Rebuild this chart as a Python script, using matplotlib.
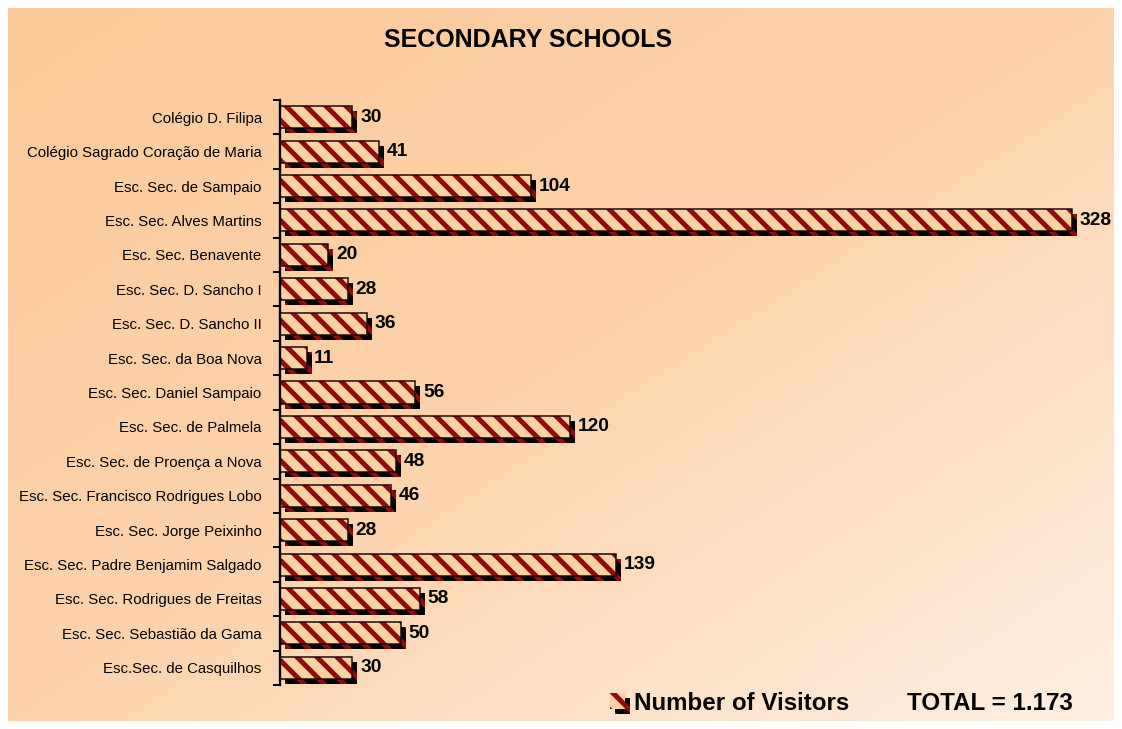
import numpy as np
import matplotlib.pyplot as plt
import matplotlib.patheffects as pe
from matplotlib.colors import LinearSegmentedColormap

plt.rcParams['font.family'] = ['Liberation Sans', 'DejaVu Sans']
plt.rcParams['hatch.linewidth'] = 3.0

schools = ["Colégio D. Filipa", "Colégio Sagrado Coração de Maria",
           "Esc. Sec. de Sampaio", "Esc. Sec. Alves Martins",
           "Esc. Sec. Benavente", "Esc. Sec. D. Sancho I",
           "Esc. Sec. D. Sancho II", "Esc. Sec. da Boa Nova",
           "Esc. Sec. Daniel Sampaio", "Esc. Sec. de Palmela",
           "Esc. Sec. de Proença a Nova", "Esc. Sec. Francisco Rodrigues Lobo",
           "Esc. Sec. Jorge Peixinho", "Esc. Sec. Padre Benjamim Salgado",
           "Esc. Sec. Rodrigues de Freitas", "Esc. Sec. Sebastião da Gama",
           "Esc.Sec. de Casquilhos"]
visitors = [30, 41, 104, 328, 20, 28, 36, 11, 56, 120, 48, 46, 28, 139, 58, 50, 30]
total_label = "TOTAL = 1.173"

W, H, dpi = 1122, 729, 120
fig = plt.figure(figsize=(W / dpi, H / dpi), dpi=dpi)
fig.patch.set_facecolor('white')

# gradient background frame
bg = fig.add_axes([8 / W, 8 / H, 1 - 16 / W, 1 - 16 / H])
cmap = LinearSegmentedColormap.from_list('peach', ['#fdca9a', '#fdd3ac', '#ffefe2'])
xx, yy = np.meshgrid(np.linspace(0, 1, 200), np.linspace(0, 1, 200))
bg.imshow((xx + yy) / 2, cmap=cmap, aspect='auto', extent=(0, 1, 0, 1), origin='upper')
bg.axis('off')

ax = fig.add_axes([280 / W, 1 - 685 / H, 820 / W, 585 / H])
ax.patch.set_alpha(0)
y = np.arange(len(schools))
bars = ax.barh(y, visitors, height=0.64, color='#fdd2a2', edgecolor='#8e0c0c',
               linewidth=0, hatch='\\\\', label='Number of Visitors')
for b in bars:
    b.set_path_effects([pe.SimplePatchShadow(offset=(3.0, -3.0), shadow_rgbFace='black', alpha=1),
                        pe.Normal()])
ax.barh(y, visitors, height=0.64, fill=False, edgecolor='#1a0505', linewidth=0.9)
for yi, v in zip(y, visitors):
    ax.annotate(str(v), (v, yi), xytext=(4.6, 0), textcoords='offset points',
                va='center', ha='left', fontsize=11.5, fontweight='bold')

ax.set_xlim(0, 820 / 2.415)
ax.set_ylim(len(schools) - 0.5, -0.5)
ax.set_yticks(y)
ax.set_yticklabels(schools, fontsize=9)
ax.tick_params(axis='y', which='major', length=0, pad=11)
ax.set_yticks(np.arange(-0.5, len(schools), 1), minor=True)
ax.tick_params(axis='y', which='minor', length=4, width=1.2, direction='out')
ax.set_xticks([])
for s in ['top', 'right', 'bottom']:
    ax.spines[s].set_visible(False)
ax.spines['left'].set_linewidth(1.4)

fig.text(528 / W, 1 - 40 / H, "SECONDARY SCHOOLS", ha='center', va='center',
         fontsize=15, fontweight='bold')

leg = fig.legend(handles=[bars[0]], labels=['Number of Visitors'], loc='center left',
                 bbox_to_anchor=(588 / W, 1 - 703 / H), frameon=False,
                 prop={'size': 14.5, 'weight': 'bold'}, handlelength=0.65,
                 handleheight=0.65, handletextpad=0.35)
fig.text(1073 / W, 1 - 703 / H, total_label, ha='right', va='center',
         fontsize=14.5, fontweight='bold')

fig.savefig('out.png', dpi=dpi)
